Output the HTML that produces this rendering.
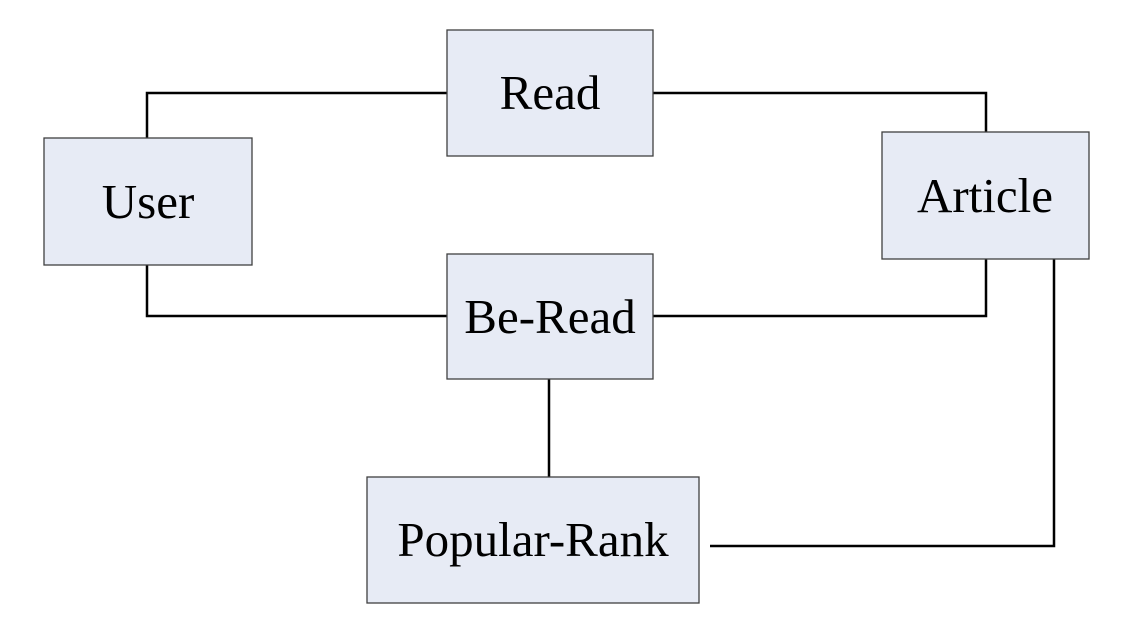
<!DOCTYPE html>
<html><head><meta charset="utf-8"><style>
html,body{margin:0;padding:0;background:#fff;}
svg{display:block;}
text{font-family:"Liberation Serif",serif;font-size:49px;fill:#000;text-anchor:middle;}
</style></head><body>
<svg width="1126" height="630" viewBox="0 0 1126 630" xmlns="http://www.w3.org/2000/svg">
<g fill="none" stroke="#000" stroke-width="2.5">
<polyline points="147,138 147,93 447,93"/>
<polyline points="653,93 986,93 986,132"/>
<polyline points="147,265 147,316 447,316"/>
<polyline points="653,316 986,316 986,259"/>
<line x1="549" y1="379" x2="549" y2="477"/>
<polyline points="710,546 1054,546 1054,259"/>
</g>
<g fill="#e7ebf5" stroke="#404040" stroke-width="1.3">
<rect x="447" y="30" width="206" height="126"/>
<rect x="44" y="138" width="208" height="127"/>
<rect x="882" y="132" width="207" height="127"/>
<rect x="447" y="254" width="206" height="125"/>
<rect x="367" y="477" width="332" height="126"/>
</g>
<text x="550" y="109">Read</text>
<text x="148" y="218">User</text>
<text x="985" y="212">Article</text>
<text x="550" y="333">Be-Read</text>
<text x="533" y="556">Popular-Rank</text>
</svg>
</body></html>
